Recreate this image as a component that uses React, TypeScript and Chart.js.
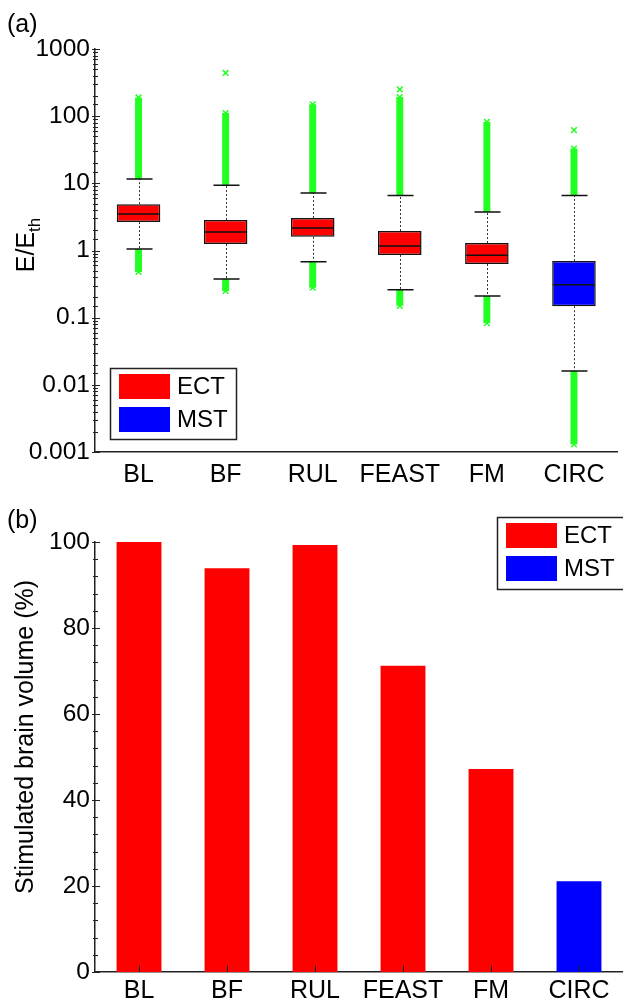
import React, { useEffect, useRef } from 'react';
import { Chart, registerables } from 'chart.js';

Chart.register(...registerables);

const FONT = '"Liberation Sans", Arial, Helvetica, sans-serif';
Chart.defaults.font.family = FONT;
Chart.defaults.color = '#000';

// ---------- data ----------
const categories = ['BL', 'BF', 'RUL', 'FEAST', 'FM', 'CIRC'];
const groupOf = ['ECT', 'ECT', 'ECT', 'ECT', 'ECT', 'MST'];
const legendLabels = ['ECT', 'MST'];
const legendColors = ['#ff0000', '#0000ff'];

// (a) E/E_th box plot statistics
const q1 = [2.65, 1.25, 1.6, 0.86, 0.63, 0.148];
const median = [3.5, 1.88, 2.16, 1.17, 0.85, 0.31];
const q3 = [4.9, 2.85, 3.05, 1.95, 1.29, 0.7];
const whiskerLow = [1.05, 0.377, 0.68, 0.26, 0.21, 0.016];
const whiskerHigh = [11.6, 9.4, 7.2, 6.6, 3.74, 6.6];
// dense outlier ranges (beyond whiskers)
const outlierHighMax = [190, 111, 150, 193, 82, 33];
const outlierLowMin = [0.48, 0.25, 0.28, 0.15, 0.083, 0.0013];
// isolated outliers
const isolatedCat = ['BF', 'FEAST', 'CIRC'];
const isolatedVal = [440, 250, 62];
const logTickLabels = ['0.001', '0.01', '0.1', '1', '10', '100', '1000'];

// (b) stimulated brain volume (%)
const volumePct = [100, 93.9, 99.3, 71.2, 47.2, 21.1];
const volTickLabels = ['0', '20', '40', '60', '80', '100'];

const colorOf = (g: string) => legendColors[legendLabels.indexOf(g)];
const GREEN = '#22ff22';

// ---------- plugins ----------
function axisTicksPlugin(drawX: boolean) {
  return {
    id: 'axisTicks',
    afterDraw(chart: any) {
      const { ctx } = chart;
      const y = chart.scales.y;
      const x = chart.scales.x;
      const ax = y.right;
      ctx.save();
      ctx.strokeStyle = '#222';
      ctx.lineWidth = 1;
      y.ticks.forEach((t: any) => {
        const py = Math.round(y.getPixelForValue(t.value)) + 0.5;
        const major = t.label !== '' && t.label !== undefined;
        ctx.beginPath();
        ctx.moveTo(ax - (major ? 3 : 2), py);
        ctx.lineTo(ax + (major ? 5 : 3), py);
        ctx.stroke();
      });
      if (drawX) {
        const by = x.top;
        categories.forEach((_, i) => {
          const px = Math.round(x.getPixelForValue(i)) + 0.5;
          ctx.beginPath();
          ctx.moveTo(px, by);
          ctx.lineTo(px, by - 7);
          ctx.stroke();
        });
      }
      ctx.restore();
    },
  };
}

function legendPlugin(place: (ca: any) => { x: number; y: number }, w: number, h: number) {
  return {
    id: 'boxLegend',
    afterDraw(chart: any) {
      const { ctx } = chart;
      const { x, y } = place(chart.chartArea);
      ctx.save();
      ctx.fillStyle = '#fff';
      ctx.fillRect(x, y, w, h);
      ctx.strokeStyle = '#222';
      ctx.lineWidth = 1.5;
      ctx.strokeRect(x + 0.5, y + 0.5, w, h);
      ctx.font = `24px ${FONT}`;
      ctx.textBaseline = 'middle';
      ctx.textAlign = 'left';
      legendLabels.forEach((lab, i) => {
        const sy = y + 6 + i * 33;
        ctx.fillStyle = legendColors[i];
        ctx.fillRect(x + 9, sy, 51, 25);
        ctx.fillStyle = '#000';
        ctx.fillText(lab, x + 67, sy + 13.5);
      });
      ctx.restore();
    },
  };
}

const boxWhiskerPlugin = {
  id: 'boxWhisker',
  afterDatasetsDraw(chart: any) {
    const { ctx } = chart;
    const y = chart.scales.y;
    const meta = chart.getDatasetMeta(0);
    const capHalf = 13;
    ctx.save();
    categories.forEach((_, i) => {
      const bar = meta.data[i];
      const cx = Math.round(bar.x) + 0.5;
      const hw = bar.width / 2;
      const yq1 = y.getPixelForValue(q1[i]);
      const yq3 = y.getPixelForValue(q3[i]);
      const ymed = y.getPixelForValue(median[i]);
      const ylo = y.getPixelForValue(whiskerLow[i]);
      const yhi = y.getPixelForValue(whiskerHigh[i]);
      ctx.setLineDash([2, 2]);
      ctx.lineWidth = 1;
      ctx.strokeStyle = '#333';
      ctx.beginPath();
      ctx.moveTo(cx, yq3);
      ctx.lineTo(cx, yhi);
      ctx.moveTo(cx, yq1);
      ctx.lineTo(cx, ylo);
      ctx.stroke();
      ctx.setLineDash([]);
      ctx.lineWidth = 1.5;
      ctx.strokeStyle = '#111';
      ctx.beginPath();
      ctx.moveTo(cx - capHalf, yhi);
      ctx.lineTo(cx + capHalf, yhi);
      ctx.moveTo(cx - capHalf, ylo);
      ctx.lineTo(cx + capHalf, ylo);
      ctx.moveTo(bar.x - hw + 1, ymed);
      ctx.lineTo(bar.x + hw - 1, ymed);
      ctx.stroke();
    });
    ctx.restore();
  },
};

export default function App() {
  const topRef = useRef<HTMLCanvasElement | null>(null);
  const botRef = useRef<HTMLCanvasElement | null>(null);

  useEffect(() => {
    const boxColors = groupOf.map(colorOf);
    const tips = [
      ...categories.map((c, i) => ({ x: c, y: outlierHighMax[i] })),
      ...categories.map((c, i) => ({ x: c, y: outlierLowMin[i] })),
      ...isolatedCat.map((c, i) => ({ x: c, y: isolatedVal[i] })),
    ];

    const top = new Chart(topRef.current as HTMLCanvasElement, {
      type: 'bar',
      data: {
        labels: categories,
        datasets: [
          {
            type: 'bar',
            label: 'box',
            data: categories.map((_, i) => [q1[i], q3[i]]),
            backgroundColor: boxColors,
            borderColor: '#111',
            borderWidth: 1.5,
            borderSkipped: false,
            barPercentage: 0.5,
            categoryPercentage: 1,
            grouped: false,
          } as any,
          {
            type: 'bar',
            label: 'outliers high',
            data: categories.map((_, i) => [whiskerHigh[i], outlierHighMax[i]]),
            backgroundColor: GREEN,
            borderWidth: 0,
            barPercentage: 0.08,
            categoryPercentage: 1,
            grouped: false,
          } as any,
          {
            type: 'bar',
            label: 'outliers low',
            data: categories.map((_, i) => [outlierLowMin[i], whiskerLow[i]]),
            backgroundColor: GREEN,
            borderWidth: 0,
            barPercentage: 0.08,
            categoryPercentage: 1,
            grouped: false,
          } as any,
          {
            type: 'line',
            label: 'outlier points',
            data: tips as any,
            showLine: false,
            pointStyle: 'crossRot',
            pointRadius: 4,
            pointBorderWidth: 1.5,
            pointBorderColor: GREEN,
            pointBackgroundColor: GREEN,
          } as any,
        ],
      },
      options: {
        responsive: false,
        animation: false,
        layout: { padding: { top: 49, right: 0, bottom: 0, left: 0 } },
        plugins: { legend: { display: false }, tooltip: { enabled: false } },
        scales: {
          x: {
            type: 'category',
            offset: true,
            grid: { display: false, drawTicks: false },
            border: { display: true, color: '#222', width: 1.5 },
            ticks: { font: { size: 25 }, color: '#000', padding: 8 },
            afterFit: (s: any) => {
              s.height = 38;
            },
          },
          y: {
            type: 'logarithmic',
            min: 0.001,
            max: 1000,
            grid: { display: false, drawTicks: false },
            border: { display: true, color: '#222', width: 1.5 },
            ticks: {
              autoSkip: false,
              font: { size: 24.5 },
              color: '#000',
              padding: 5,
              callback: (v: any) => {
                const e = Math.log10(Number(v));
                const r = Math.round(e);
                return Math.abs(e - r) < 1e-6 ? logTickLabels[r + 3] : '';
              },
            },
            afterFit: (s: any) => {
              s.width = 95;
            },
          },
        },
      } as any,
      plugins: [
        boxWhiskerPlugin,
        axisTicksPlugin(false),
        legendPlugin((ca) => ({ x: ca.left + 15, y: ca.bottom - 84 }), 126, 71),
      ],
    });

    const bot = new Chart(botRef.current as HTMLCanvasElement, {
      type: 'bar',
      data: {
        labels: categories,
        datasets: [
          {
            label: 'volume',
            data: volumePct,
            backgroundColor: boxColors,
            borderWidth: 0,
            barPercentage: 0.51,
            categoryPercentage: 1,
          },
        ],
      },
      options: {
        responsive: false,
        animation: false,
        layout: { padding: { top: 52, right: 0, bottom: 0, left: 0 } },
        plugins: { legend: { display: false }, tooltip: { enabled: false } },
        scales: {
          x: {
            type: 'category',
            offset: true,
            grid: { display: false, drawTicks: false },
            border: { display: true, color: '#222', width: 1.5 },
            ticks: { font: { size: 25 }, color: '#000', padding: 4 },
            afterFit: (s: any) => {
              s.height = 30;
            },
          },
          y: {
            type: 'linear',
            min: 0,
            max: 100,
            grid: { display: false, drawTicks: false },
            border: { display: true, color: '#222', width: 1.5 },
            ticks: {
              autoSkip: false,
              stepSize: 4,
              font: { size: 24.5 },
              color: '#000',
              padding: 5,
              callback: (v: any) => {
                const n = Number(v);
                return n % 20 === 0 ? volTickLabels[n / 20] : '';
              },
            },
            afterFit: (s: any) => {
              s.width = 95;
            },
          },
        },
      } as any,
      plugins: [
        axisTicksPlugin(true),
        legendPlugin((ca) => ({ x: ca.right - 126, y: ca.top - 25 }), 128, 72),
      ],
    });

    return () => {
      top.destroy();
      bot.destroy();
    };
  }, []);

  const txt: React.CSSProperties = { position: 'absolute', lineHeight: 1, whiteSpace: 'nowrap', color: '#000' };

  return (
    <div
      style={{
        position: 'absolute',
        left: 0,
        top: 0,
        width: 623,
        height: 1002,
        background: '#fff',
        overflow: 'hidden',
        fontFamily: FONT,
      }}
    >
      <canvas ref={topRef} width={623} height={490} style={{ position: 'absolute', left: 0, top: 0 }} />
      <canvas ref={botRef} width={623} height={512} style={{ position: 'absolute', left: 0, top: 490 }} />
      <div style={{ ...txt, left: 7, top: 11, fontSize: 25 }}>(a)</div>
      <div style={{ ...txt, left: 7, top: 507, fontSize: 25 }}>(b)</div>
      <div
        style={{
          ...txt,
          left: 28,
          top: 245,
          fontSize: 25,
          transform: 'translate(-50%, -50%) rotate(-90deg)',
        }}
      >
        E/E<sub style={{ fontSize: 17, verticalAlign: 'sub' }}>th</sub>
      </div>
      <div
        style={{
          ...txt,
          left: 24,
          top: 737,
          fontSize: 25,
          transform: 'translate(-50%, -50%) rotate(-90deg)',
        }}
      >
        Stimulated brain volume (%)
      </div>
    </div>
  );
}
